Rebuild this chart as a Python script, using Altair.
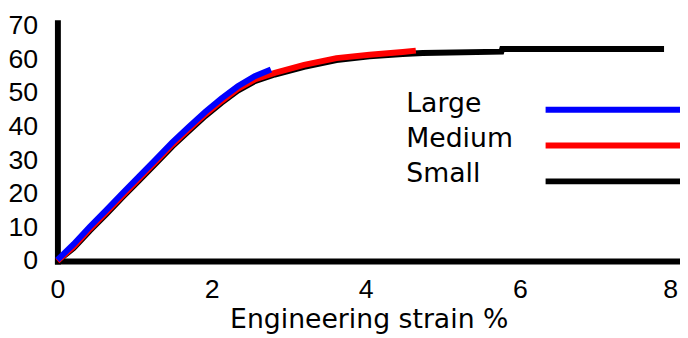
import altair as alt
import pandas as pd

# ---- data ----
series_names = ["Large", "Medium", "Small"]
series_colors = ["#0000ff", "#ff0000", "#000000"]

large_x = [0, 0.21, 0.42, 0.64, 0.85, 1.06, 1.28, 1.49, 1.70, 1.92, 2.13, 2.34, 2.56, 2.77]
large_y = [0.3, 5.0, 10.2, 15.3, 20.3, 25.2, 30.3, 35.3, 39.8, 44.4, 48.4, 52.0, 55.0, 57.0]

medium_x = [0, 0.21, 0.42, 0.64, 0.85, 1.06, 1.28, 1.49, 1.70, 1.92, 2.13, 2.34, 2.56,
            2.82, 3.2, 3.62, 4.05, 4.48, 4.65]
medium_y = [0, 4.3, 9.5, 14.6, 19.6, 24.5, 29.6, 34.6, 39.1, 43.7, 47.6, 51.2, 54.0,
            56.0, 58.4, 60.4, 61.4, 62.2, 62.6]

small_x = [0, 0.21, 0.42, 0.64, 0.85, 1.06, 1.28, 1.49, 1.70, 1.92, 2.13, 2.34, 2.56,
           2.82, 3.2, 3.62, 4.05, 4.48, 4.74, 5.76, 5.77, 7.87]
small_y = [0, 3.8, 9.0, 14.1, 19.1, 24.0, 29.1, 34.1, 38.6, 43.2, 47.1, 50.7, 53.5,
           55.5, 57.8, 59.8, 60.9, 61.6, 61.9, 62.3, 63.1, 63.1]

x_ticks = [0, 2, 4, 6, 8]
y_ticks = [0, 10, 20, 30, 40, 50, 60, 70]
x_title = "Engineering strain %"


def frame(name, xs, ys):
    return pd.DataFrame({"series": name, "strain": xs, "stress": ys})


x_enc = alt.X(
    "strain:Q",
    scale=alt.Scale(domain=[0, 8.077], nice=False, zero=False),
    axis=alt.Axis(
        values=x_ticks,
        title=x_title,
        labelPadding=16,
        labelFlush=False,
        labelOffset={"condition": {"test": "datum.value == 8", "value": -4}, "value": 0},
        titleBaseline="alphabetic",
        titleY=67,
    ),
)
y_enc = alt.Y(
    "stress:Q",
    scale=alt.Scale(domain=[0, 70.9], nice=False),
    axis=alt.Axis(values=y_ticks, title=None, labelPadding=20),
)


def curve(df, color):
    return alt.Chart(df).mark_line(color=color, strokeWidth=6).encode(
        x=x_enc, y=y_enc, order=alt.Order("strain:Q")
    )


curves = alt.layer(
    curve(frame("Small", small_x, small_y), series_colors[2]),
    curve(frame("Medium", medium_x, medium_y), series_colors[1]),
    curve(frame("Large", large_x, large_y), series_colors[0]),
)

legend_df = pd.DataFrame({"series": series_names, "row": [0, 1, 2], "color": series_colors})

legend_text = alt.Chart(legend_df).mark_text(
    align="left", baseline="middle", font="DejaVu Sans", fontSize=27, color="black"
).encode(
    x=alt.value(353),
    y=alt.Y("row:Q", scale=alt.Scale(domain=[0, 2], range=[82.75, 152.75]), axis=None),
    text="series:N",
)

legend_lines = alt.Chart(legend_df).mark_rule(strokeWidth=6).encode(
    x=alt.value(494),
    x2=alt.value(630),
    y=alt.Y("row:Q", scale=alt.Scale(domain=[0, 2], range=[88, 160.5]), axis=None),
    color=alt.Color("color:N", scale=None),
)

chart = (
    alt.layer(curves, legend_text, legend_lines)
    .resolve_scale(y="independent")
    .properties(
        width=630,
        height=241,
        autosize=alt.AutoSizeParams(type="none"),
        padding={"left": 50, "top": 13, "right": 0, "bottom": 76},
        background="white",
    )
    .configure_view(stroke=None)
    .configure_axis(
        domainColor="black",
        domainWidth=6,
        domainCap="square",
        ticks=False,
        tickSize=0,
        grid=False,
        labelFont="Liberation Sans",
        labelFontSize=27,
        labelColor="black",
        titleFont="DejaVu Sans",
        titleFontSize=27,
        titleFontWeight="normal",
        titleColor="black",
    )
)

chart.save("out.html", embed_options={"renderer": "svg", "actions": False})
